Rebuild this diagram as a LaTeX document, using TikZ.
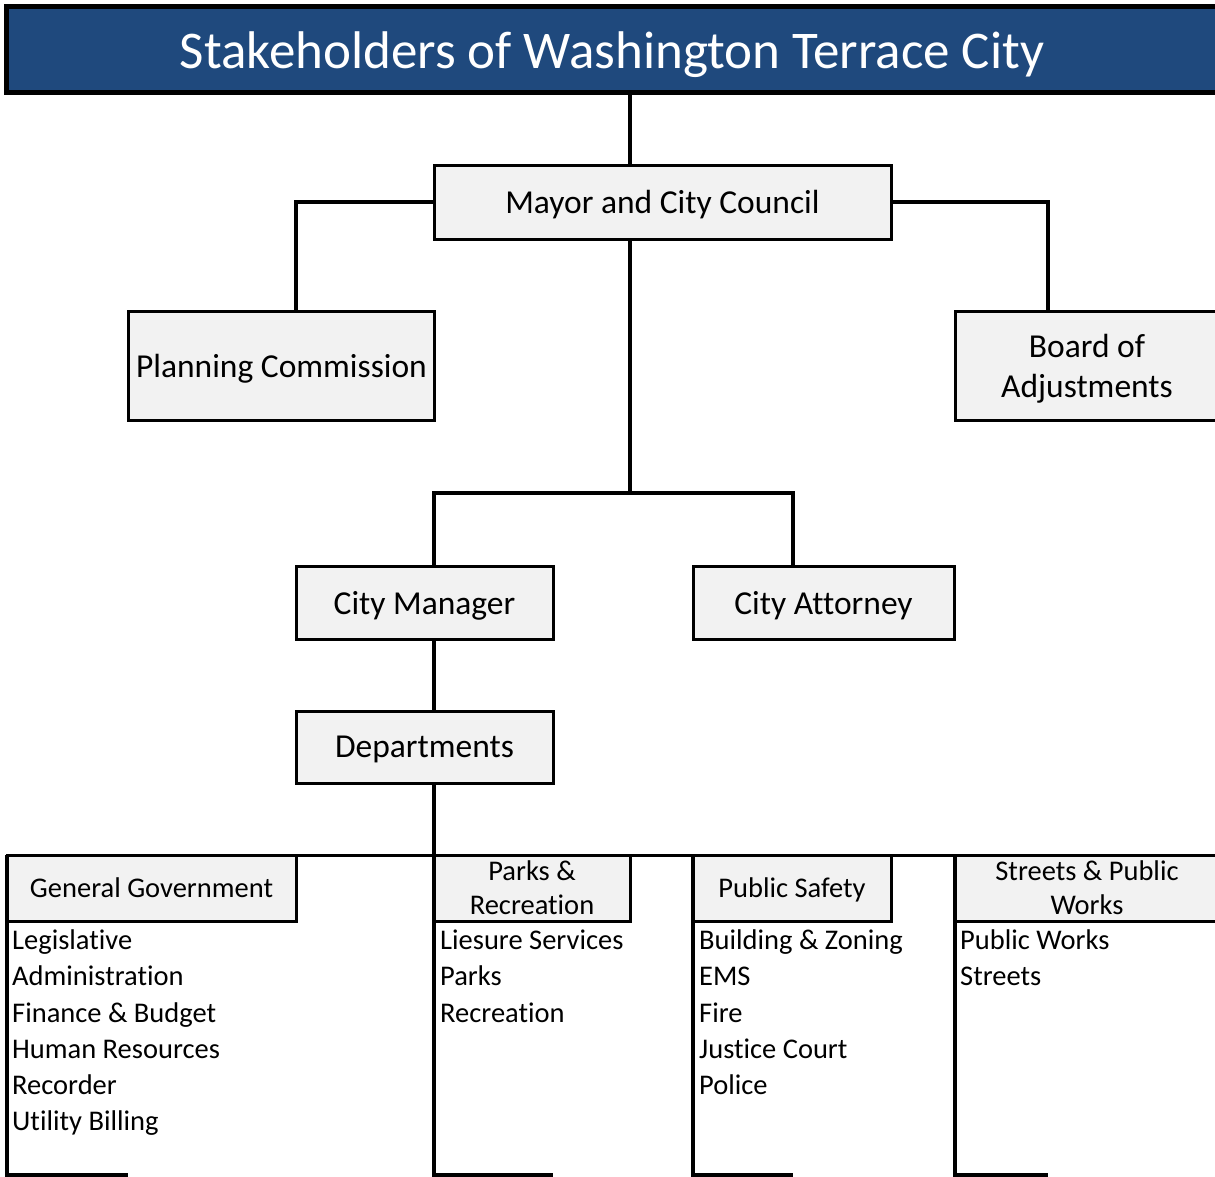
\documentclass[tikz,border=0pt]{standalone}
\usepackage{fontspec}
\setmainfont{Carlito}[Ligatures={NoCommon,NoRare,NoContextual}]
\definecolor{titleblue}{HTML}{1F497D}
\definecolor{boxgray}{HTML}{F2F2F2}
\begin{document}
\begin{tikzpicture}[x=1bp,y=-1bp,
  orgbox/.style={draw=black,line width=3bp,fill=boxgray,inner sep=0pt,outer sep=0pt,
    font=\fontsize{33.5bp}{40bp}\selectfont,align=center,text depth=0pt},
  headbox/.style={draw=black,line width=3bp,fill=boxgray,inner sep=0pt,outer sep=0pt,
    font=\fontsize{28.5bp}{36bp}\selectfont,align=center,text depth=0pt},
  item/.style={anchor=base west,inner sep=0pt,font=\fontsize{28.5bp}{36bp}\selectfont},
  link/.style={line width=4.5bp},
  colline/.style={line width=4bp},
  rule/.style={line width=3bp}]
\useasboundingbox (0,0) rectangle (1215,1177);

% title bar
\node[draw=black,line width=5bp,fill=titleblue,inner sep=0pt,outer sep=0pt,
  minimum width=1220bp,minimum height=86bp,anchor=north west] (title) at (6.5,6.5) {};
\node[text=white,font=\fontsize{53bp}{60bp}\selectfont,inner sep=0pt,text depth=0pt] (titletext) at (612,50) {Stakeholders of Washington Terrace City};

% top level boxes
\node[orgbox,minimum width=457bp,minimum height=74bp] (mayor) at (662.5,202) {Mayor and City Council};
\node[orgbox,minimum width=305bp,minimum height=109bp] (planning) at (281.5,365.5) {Planning Commission};
\node[orgbox,minimum width=264bp,minimum height=109bp] (board) at (1087,365.5) {Board of\\Adjustments};
\node[orgbox,minimum width=257bp,minimum height=73bp] (manager) at (424.5,602.5) {City Manager};
\node[orgbox,minimum width=261bp,minimum height=73bp] (attorney) at (823.5,602.5) {City Attorney};
\node[orgbox,minimum width=257bp,minimum height=72bp] (depts) at (424.5,747) {Departments};

% junction columns
\coordinate (trunk) at (630,0);
\coordinate (pcol) at (296,0);
\coordinate (bcol) at (1048,0);
\coordinate (mcol) at (434,0);
\coordinate (acol) at (793,0);
\coordinate (split) at (630,493);
\coordinate (deptbus) at (434,855);

% connectors
\draw[link] (title.south -| trunk) -- (mayor.north -| trunk);
\draw[link] (mayor.west) -| (planning.north -| pcol);
\draw[link] (mayor.east) -| (board.north -| bcol);
\draw[link] (mayor.south -| trunk) -- (split);
\draw[link] (split) -| (manager.north -| mcol);
\draw[link] (split) -| (attorney.north -| acol);
\draw[link] (manager.south -| mcol) -- (depts.north -| mcol);
\draw[link] (depts.south -| mcol) -- (deptbus);

% department columns
\coordinate (gl) at (7,855);
\coordinate (pl) at (434,855);
\coordinate (sl) at (693,855);
\coordinate (wl) at (955,855);
\coordinate (busend) at (1220,855);
\draw[rule] (gl) -- (busend);
\draw[colline] (gl) -- ++(0,320) -- ++(121,0);
\draw[colline] (pl) -- ++(0,320) -- ++(119,0);
\draw[colline] (sl) -- ++(0,320) -- ++(100,0);
\draw[colline] (wl) -- ++(0,320) -- ++(93,0);

\node[headbox,minimum width=289bp,minimum height=66bp,anchor=north west] (gg) at (gl) {General Government};
\node[headbox,minimum width=196bp,minimum height=66bp,anchor=north west] (pr) at (pl) {Parks \&\\[-2bp]Recreation};
\node[headbox,minimum width=198bp,minimum height=66bp,anchor=north west] (ps) at (sl) {Public Safety};
\node[headbox,minimum width=264bp,minimum height=66bp,anchor=north west] (sp) at (wl) {Streets \& Public\\[-2bp]Works};

% department lists
\node[item] (g1) at (12,949) {Legislative};
\node[item] (g2) at (12,985) {Administration};
\node[item] (g3) at (12,1022) {Finance \& Budget};
\node[item] (g4) at (12,1058) {Human Resources};
\node[item] (g5) at (12,1094) {Recorder};
\node[item] (g6) at (12,1130) {Utility Billing};

\node[item] (p1) at (440,949) {Liesure Services};
\node[item] (p2) at (440,985) {Parks};
\node[item] (p3) at (440,1022) {Recreation};

\node[item] (s1) at (699,949) {Building \& Zoning};
\node[item] (s2) at (699,985) {EMS};
\node[item] (s3) at (699,1022) {Fire};
\node[item] (s4) at (699,1058) {Justice Court};
\node[item] (s5) at (699,1094) {Police};

\node[item] (w1) at (960,949) {Public Works};
\node[item] (w2) at (960,985) {Streets};
\end{tikzpicture}
\end{document}
